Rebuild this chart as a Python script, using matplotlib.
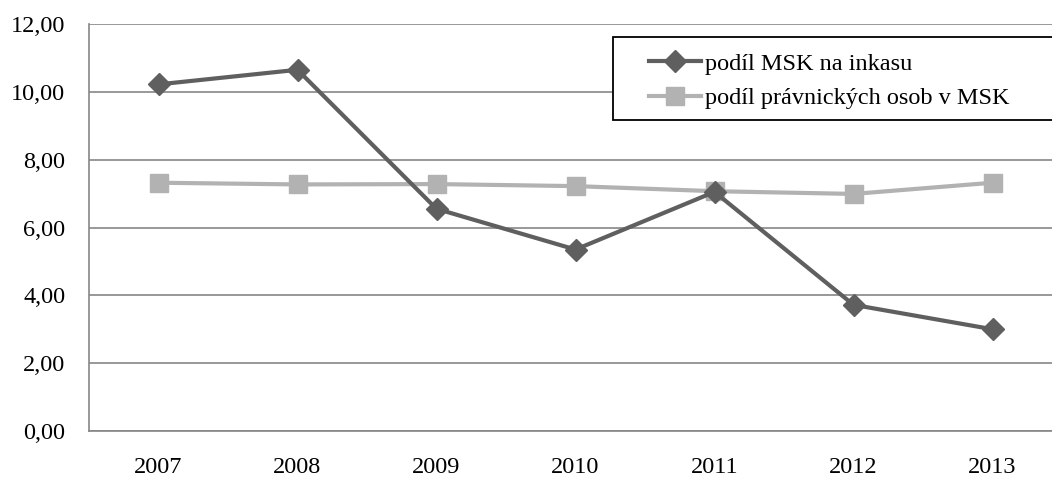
import matplotlib
matplotlib.use("Agg")
import matplotlib.pyplot as plt
from matplotlib.ticker import FuncFormatter
from matplotlib.patches import Rectangle

# data
years = ["2007", "2008", "2009", "2010", "2011", "2012", "2013"]
podil_msk = [10.22, 10.65, 6.55, 5.35, 7.05, 3.72, 3.00]
podil_po = [7.32, 7.27, 7.28, 7.22, 7.07, 6.99, 7.32]
labels = ["podíl MSK na inkasu", "podíl právnických osob v MSK"]

plt.rcParams['font.family'] = ['Liberation Serif', 'DejaVu Serif']
FS = 17.5

W, H = 1052, 479
fig = plt.figure(figsize=(W / 100, H / 100), dpi=100)
# plot area: left 89px, top 24px, bottom 431px, right runs a bit past the edge
ax = fig.add_axes([89 / W, (H - 431) / H, (1062 - 89) / W, (431 - 24) / H])

x = range(len(years))
ax.plot(x, podil_msk, color='#5f5f5f', lw=3, marker='D', ms=11,
        label=labels[0], zorder=3)
ax.plot(x, podil_po, color='#b2b2b2', lw=3, marker='s', ms=13,
        label=labels[1], zorder=2)

ax.set_xlim(-0.5, len(years) - 0.5)
ax.set_ylim(0, 12)
ax.set_yticks(range(0, 13, 2))
ax.yaxis.set_major_formatter(FuncFormatter(lambda v, p: f"{v:.2f}".replace('.', ',')))
ax.set_xticks(list(x))
ax.set_xticklabels(years)
ax.tick_params(length=0, labelsize=FS, colors='black')
ax.tick_params(axis='x', pad=19)
ax.tick_params(axis='y', pad=17)

ax.grid(axis='y', color='#868686', lw=1.2)
ax.set_axisbelow(True)
for s in ['top', 'right']:
    ax.spines[s].set_visible(False)
for s in ['left', 'bottom']:
    ax.spines[s].set_color('#868686')
    ax.spines[s].set_linewidth(1.2)

# legend box (runs off the right edge like the original)
box = Rectangle((613 / W, (H - 120) / H), (1070 - 613) / W, 83 / H,
                transform=fig.transFigure, facecolor='white',
                edgecolor='black', lw=1.3, zorder=5)
fig.add_artist(box)
leg = fig.legend(loc='center left', bbox_to_anchor=(649 / W, (H - 81) / H),
                 frameon=False, fontsize=FS, handlelength=2.15,
                 handletextpad=0.15, borderpad=0, labelspacing=0.5,
                 borderaxespad=0)
leg.set_zorder(6)

fig.savefig("out.png", dpi=100)
